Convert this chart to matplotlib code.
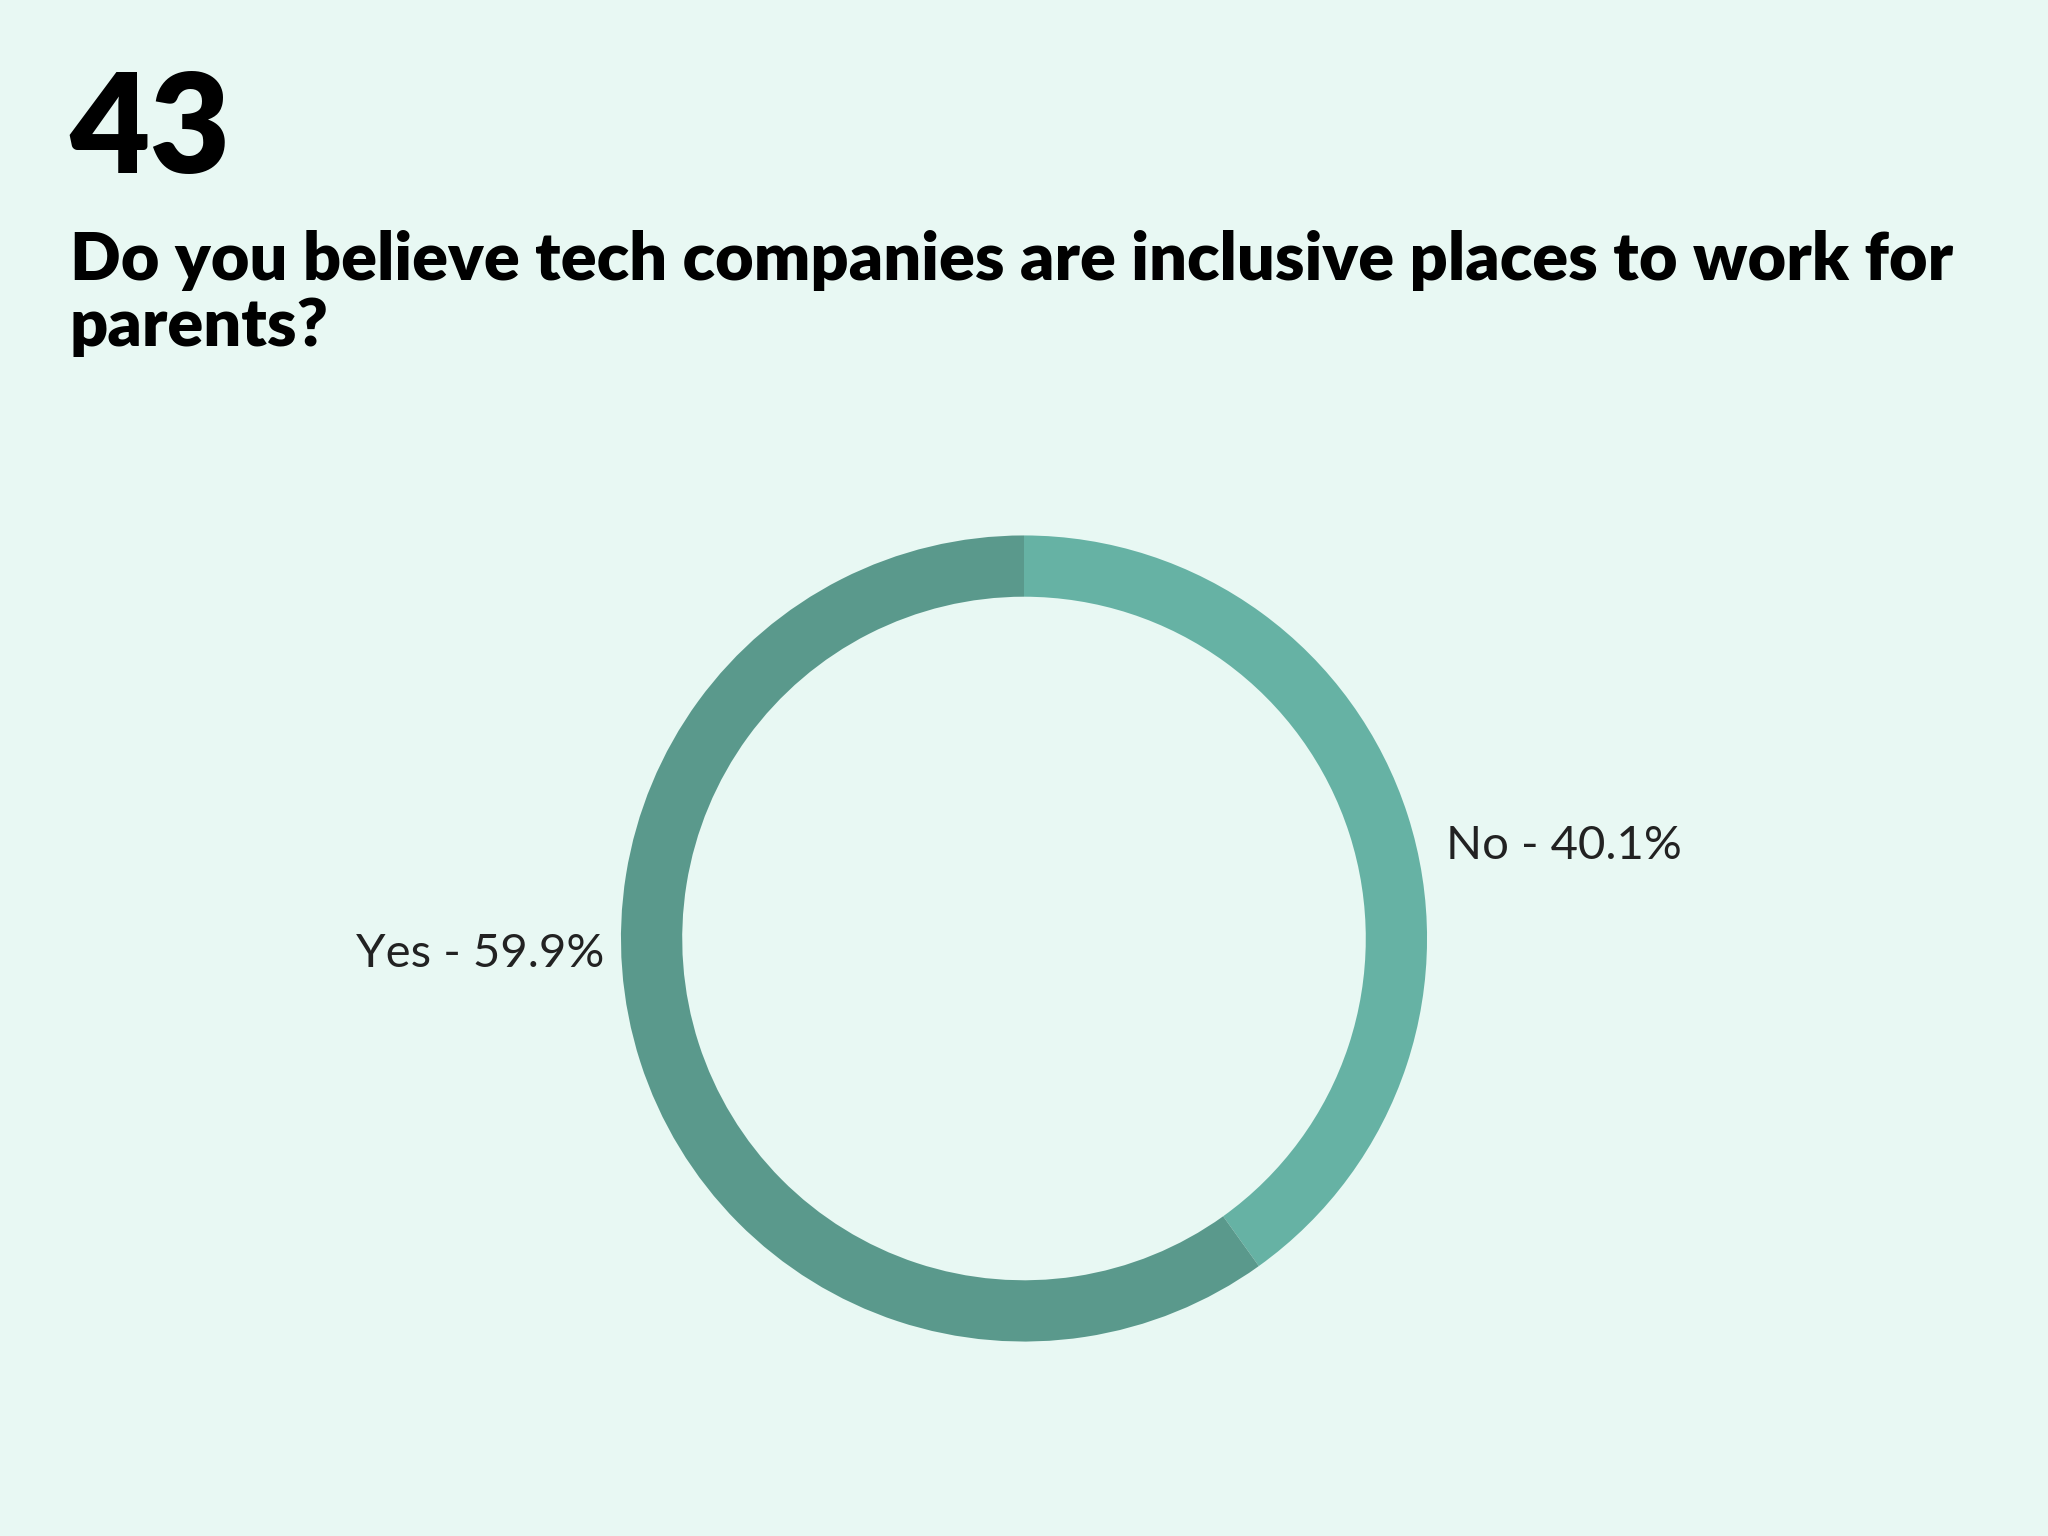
import matplotlib
matplotlib.use("Agg")
import matplotlib.pyplot as plt

labels = ["No", "Yes"]
values = [40.1, 59.9]
colors = ["#66b2a4", "#5a998c"]

fig = plt.figure(figsize=(20.48, 15.36), dpi=100)
fig.patch.set_facecolor("#e8f8f3")

fig.text(0.034, 0.955, "43", fontsize=100, fontweight="heavy", family=["Lato", "DejaVu Sans"], va="top", ha="left")
fig.text(0.034, 0.85, "Do you believe tech companies are inclusive places to work for\nparents?",
         fontsize=48, fontweight="heavy", family=["Lato", "DejaVu Sans"], va="top", ha="left", linespacing=1.1)

ax = fig.add_axes([0.254, 0.061, 0.492, 0.656])
ax.pie(values, colors=colors, startangle=90, counterclock=False, radius=1,
       wedgeprops=dict(width=0.152, edgecolor="none"))
ax.set_aspect("equal")
ax.axis("off")

fig.text(0.706, 0.449, f"{labels[0]} - {values[0]}%", fontsize=34, fontweight="normal",
         family=["Lato", "DejaVu Sans"], va="center", ha="left", color="#222222")
fig.text(0.295, 0.379, f"{labels[1]} - {values[1]}%", fontsize=34, fontweight="normal",
         family=["Lato", "DejaVu Sans"], va="center", ha="right", color="#222222")

fig.savefig("out.png", dpi=100, facecolor=fig.get_facecolor())
